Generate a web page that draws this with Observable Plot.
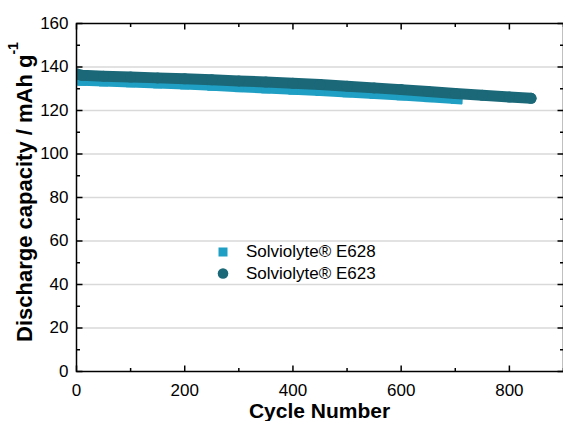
<!DOCTYPE html>
<html><head><meta charset="utf-8">
<script src="https://cdn.jsdelivr.net/npm/d3@7"></script>
<script src="https://cdn.jsdelivr.net/npm/@observablehq/plot@0.6"></script>
<style>
body{margin:0;background:#fff;}
#chart{position:relative;width:563px;height:421px;overflow:hidden;}
svg{overflow:visible;}
</style>
</head><body><div id="chart"></div>
<script>
// Data
const seriesNames = ["Solviolyte® E628", "Solviolyte® E623"];
const e628Cycles = [1, 10, 50, 100, 150, 200, 250, 300, 350, 400, 450, 500, 550, 600, 650, 700, 705];
const e628Capacity = [133.6, 133.4, 133.1, 132.7, 132.2, 131.7, 131.1, 130.5, 129.9, 129.3, 128.7, 128.1, 127.4, 126.7, 125.9, 125.1, 125.0];
const e623Cycles = [1, 10, 50, 100, 150, 200, 250, 300, 350, 400, 450, 500, 550, 600, 650, 700, 750, 800, 840];
const e623Capacity = [136.8, 136.2, 135.8, 135.4, 135.0, 134.6, 134.1, 133.6, 133.1, 132.5, 131.9, 131.2, 130.4, 129.6, 128.7, 127.8, 127.0, 126.2, 125.6];
const xMajorTicks = [0, 200, 400, 600, 800];
const xMinorTicks = [100, 300, 500, 700, 900];
const yMajorTicks = [0, 20, 40, 60, 80, 100, 120, 140, 160];
const yMinorTicks = [10, 30, 50, 70, 90, 110, 130, 150];
const gridTicks = [20, 40, 60, 80, 100, 120, 140];
const xTitle = "Cycle Number";
const yTitle = "Discharge capacity / mAh g";
const yTitleSup = "-1";

const colors = {E628: "#1f9fc3", E623: "#1a6878"};
const e628 = e628Cycles.map((c, i) => ({cycle: c, cap: e628Capacity[i]}));
const e623 = e623Cycles.map((c, i) => ({cycle: c, cap: e623Capacity[i]}));

const font = "Liberation Sans, Arial, sans-serif";
// custom tick-line symbols (length = sqrt(size))
const seg = (dx, dy) => ({draw(ctx, size) { const l = Math.sqrt(size); ctx.moveTo(0, 0); ctx.lineTo(dx * l, dy * l); }});
const R = (len) => len / Math.sqrt(Math.PI);
const tickMarks = (anchor, ticks, len) => {
  const common = {frameAnchor: anchor, r: R(len), fill: "none", stroke: "black", strokeWidth: 1.5};
  if (anchor === "left") return Plot.dot(ticks, {...common, y: d => d, symbol: seg(1, 0)});
  if (anchor === "right") return Plot.dot(ticks, {...common, y: d => d, symbol: seg(-1, 0)});
  if (anchor === "bottom") return Plot.dot(ticks, {...common, x: d => d, symbol: seg(0, -1)});
  return Plot.dot(ticks, {...common, x: d => d, symbol: seg(0, 1)});
};

const plot = Plot.plot({
  width: 563,
  height: 421,
  marginLeft: 76,
  marginRight: 0,
  marginTop: 23,
  marginBottom: 50,
  style: {fontFamily: font, fontSize: "17px", color: "black", background: "white"},
  x: {domain: [0, 900]},
  y: {domain: [0, 160]},
  marks: [
    Plot.gridY(gridTicks, {stroke: "#d9d9d9", strokeOpacity: 1, strokeWidth: 1.5}),
    Plot.line(e628, {x: "cycle", y: "cap", stroke: colors.E628, strokeWidth: 9, strokeLinecap: "square", clip: true}),
    Plot.dot(e628, {x: "cycle", y: "cap", symbol: "square", r: 5, fill: colors.E628, clip: true}),
    Plot.line(e623, {x: "cycle", y: "cap", stroke: colors.E623, strokeWidth: 11, strokeLinecap: "round", clip: true}),
    Plot.dot(e623, {x: "cycle", y: "cap", r: 5.5, fill: colors.E623, clip: true}),
    Plot.frame({stroke: "black", strokeWidth: 1.5}),
    tickMarks("left", yMajorTicks, 6), tickMarks("left", yMinorTicks, 3.5),
    tickMarks("right", yMajorTicks, 6), tickMarks("right", yMinorTicks, 3.5),
    tickMarks("bottom", xMajorTicks, 6), tickMarks("bottom", xMinorTicks, 3.5),
    tickMarks("top", xMajorTicks, 6), tickMarks("top", xMinorTicks, 3.5),
    Plot.axisY(yMajorTicks, {anchor: "left", tickSize: 0, tickPadding: 8, fontSize: 17, label: null}),
    Plot.axisX(xMajorTicks, {anchor: "bottom", tickSize: 0, tickPadding: 12, fontSize: 17, label: null})
  ]
});
document.getElementById("chart").appendChild(plot);

const svg = d3.select(plot);
svg.append("text")
  .attr("x", 319.5).attr("y", 418)
  .attr("text-anchor", "middle")
  .attr("font-family", font).attr("font-weight", "bold").attr("font-size", 21)
  .attr("fill", "black")
  .text(xTitle);
const yt = svg.append("text")
  .attr("transform", "translate(32,192) rotate(-90)")
  .attr("text-anchor", "middle")
  .attr("font-family", font).attr("font-weight", "bold").attr("font-size", 22)
  .attr("fill", "black");
yt.append("tspan").text(yTitle);
yt.append("tspan").attr("dy", -14).attr("font-size", 14).text(yTitleSup);

// legend
const lg = svg.append("g").attr("font-family", font).attr("font-size", 17).attr("fill", "black").attr("text-anchor", "start");
lg.append("rect").attr("x", 218.5).attr("y", 247.5).attr("width", 9).attr("height", 9).attr("fill", colors.E628);
lg.append("text").attr("x", 246).attr("y", 257).attr("text-anchor", "start").text(seriesNames[0]);
lg.append("circle").attr("cx", 223).attr("cy", 273.5).attr("r", 5.3).attr("fill", colors.E623);
lg.append("text").attr("x", 246).attr("y", 279).attr("text-anchor", "start").text(seriesNames[1]);
</script></body></html>
